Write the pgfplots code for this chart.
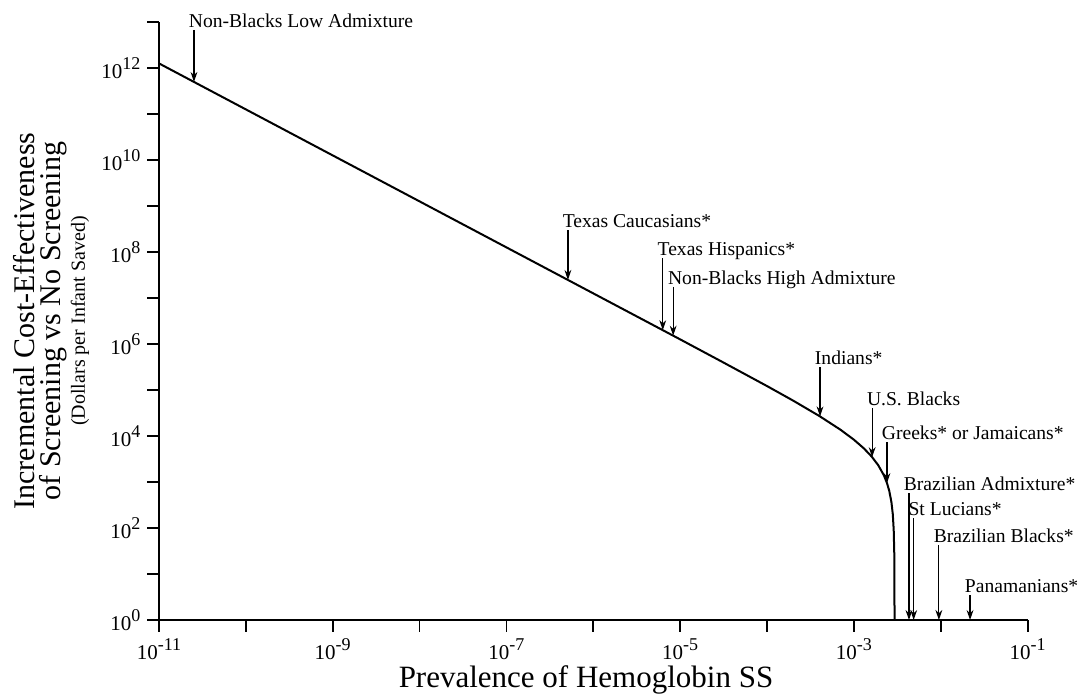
\documentclass[border=0pt]{standalone}
\usepackage{fontspec}
\setmainfont{Liberation Serif}
\usepackage{pgfplots}
\pgfplotsset{compat=1.18}
\usetikzlibrary{arrows.meta}
\newcommand\tp[1]{10\raisebox{0.45em}{\fontsize{9}{10}\selectfont#1}}
\newcommand\annot{\fontsize{9.8}{11}\selectfont}
\begin{document}
\begin{tikzpicture}
\begin{axis}[
  scale only axis, width=434.35pt, height=299pt,
  xmode=log, ymode=log,
  xmin=1e-11, xmax=1e-1, ymin=1, ymax=1e13,
  axis x line*=bottom, axis y line*=left,
  tick align=outside,
  major tick length=5.75pt, minor tick length=5.75pt,
  xtick={1e-11,1e-9,1e-7,1e-5,1e-3,1e-1},
  xticklabels={\tp{-11},\tp{-9},\tp{-7},\tp{-5},\tp{-3},\tp{-1}},
  minor xtick={1e-10,1e-8,1e-6,1e-4,1e-2},
  ytick={1,1e2,1e4,1e6,1e8,1e10,1e12},
  yticklabels={\tp{0},\tp{2},\tp{4},\tp{6},\tp{8},\tp{10},\tp{12}},
  minor ytick={1e1,1e3,1e5,1e7,1e9,1e11,1e13},
  clip=false,
  axis line style={line width=1pt},
  every tick/.style={line width=0.9pt, black},
  ticklabel style={font=\fontsize{10.5}{12}\selectfont},
]
\addplot[line width=1pt, black] coordinates {
(1e-11,1.26e12) (1e-10,1.26e11) (1e-9,1.26e10) (1e-8,1.26e9) (1e-7,1.26e8)
(1e-6,1.26e7) (1e-5,1.26e6) (3e-5,415700) (1e-4,121700) (2e-4,58700)
(4e-4,27200) (7e-4,13700) (1e-3,8300) (1.3e-3,5392) (1.6e-3,3575)
(1.9e-3,2332) (2.2e-3,1427) (2.4e-3,950) (2.55e-3,641) (2.7e-3,367)
(2.8e-3,200) (2.87e-3,90) (2.91e-3,30) (2.935e-3,1)
};
% annotations
\tikzset{arr/.style={-{Stealth[length=5pt,width=3.4pt]}, line width=0.6pt},
         lab/.style={anchor=base west, inner sep=0pt, font=\annot, xshift=-2.75pt, yshift=1.25pt}}
\draw[arr] (axis cs:2.53e-11,6.76e12) -- (axis cs:2.53e-11,4.98e11);
\node[lab] at (axis cs:2.53e-11,6.76e12) {Non-Blacks Low Admixture};
\draw[arr] (axis cs:5.1e-7,3.0e8) -- (axis cs:5.1e-7,2.47e7);
\node[lab] at (axis cs:5.1e-7,3.0e8) {Texas Caucasians*};
\draw[arr] (axis cs:6.3e-6,7.4e7) -- (axis cs:6.3e-6,2.0e6);
\node[lab] at (axis cs:6.3e-6,7.4e7) {Texas Hispanics*};
\draw[arr] (axis cs:8.3e-6,1.74e7) -- (axis cs:8.3e-6,1.52e6);
\node[lab] at (axis cs:8.3e-6,1.74e7) {Non-Blacks High Admixture};
\draw[arr] (axis cs:4.07e-4,3.16e5) -- (axis cs:4.07e-4,2.67e4);
\node[lab] at (axis cs:4.07e-4,3.16e5) {Indians*};
\draw[arr] (axis cs:1.62e-3,4.07e4) -- (axis cs:1.62e-3,3478);
\node[lab] at (axis cs:1.62e-3,4.07e4) {U.S. Blacks};
\draw[arr] (axis cs:2.4e-3,7413) -- (axis cs:2.4e-3,950);
\node[lab] at (axis cs:2.4e-3,7413) {Greeks* or Jamaicans*};
\draw[arr] (axis cs:4.3e-3,575) -- (axis cs:4.3e-3,1);
\node[lab] at (axis cs:4.3e-3,575) {Brazilian Admixture*};
\draw[arr] (axis cs:4.87e-3,166) -- (axis cs:4.87e-3,1);
\node[lab] at (axis cs:4.87e-3,166) {St Lucians*};
\draw[arr] (axis cs:9.5e-3,42.7) -- (axis cs:9.5e-3,1);
\node[lab] at (axis cs:9.5e-3,42.7) {Brazilian Blacks*};
\draw[arr] (axis cs:2.17e-2,3.47) -- (axis cs:2.17e-2,1);
\node[lab] at (axis cs:2.17e-2,3.47) {Panamanians*};
% axis labels
\node[rotate=90, anchor=base, inner sep=0pt, font=\fontsize{15}{18}\selectfont] at (rel axis cs:-0.1427,0.5) {Incremental Cost-Effectiveness};
\node[rotate=90, anchor=base, inner sep=0pt, font=\fontsize{15}{18}\selectfont] at (rel axis cs:-0.1128,0.5) {of Screening vs No Screening};
\node[rotate=90, anchor=base, inner sep=0pt, font=\fontsize{10}{12}\selectfont] at (rel axis cs:-0.0852,0.5) {(Dollars per Infant Saved)};
\node[anchor=base, inner sep=0pt, font=\fontsize{15.5}{18}\selectfont] at (rel axis cs:0.4916,-0.1120) {Prevalence of Hemoglobin SS};
\path (rel axis cs:-0.183,-0.1171) rectangle (rel axis cs:1.0602,1.0368);
\end{axis}
\end{tikzpicture}
\end{document}
